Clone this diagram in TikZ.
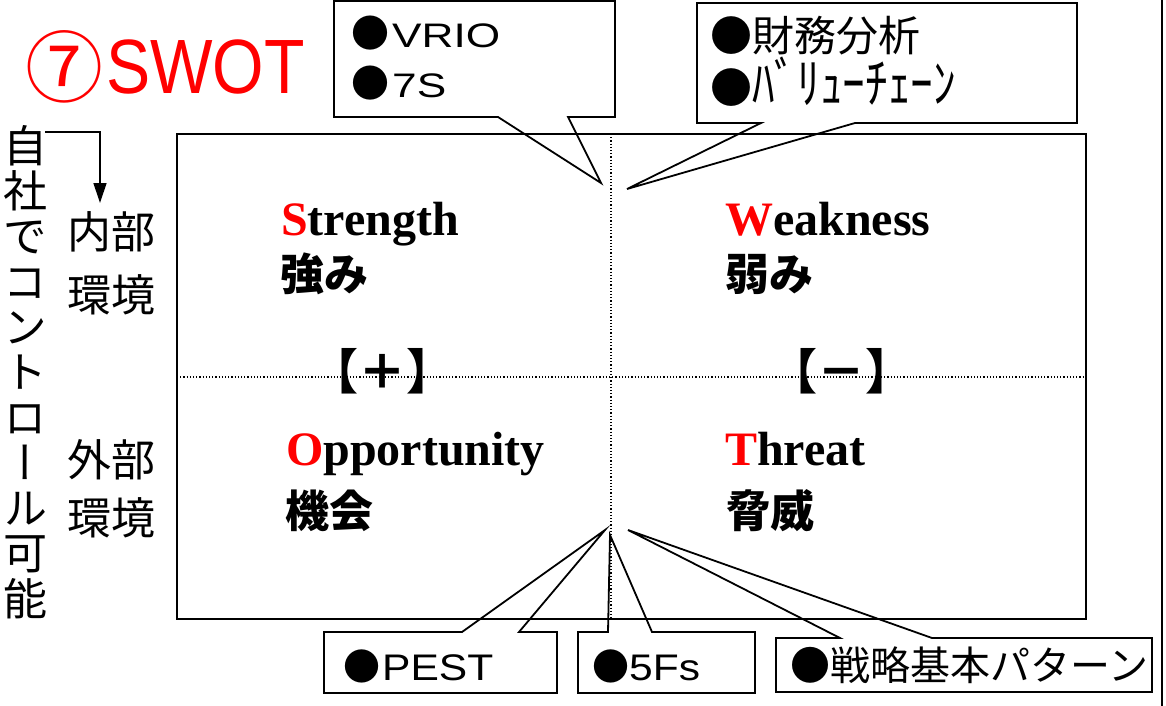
\documentclass[tikz,border=0pt]{standalone}
\usepackage{fontspec}
\usepackage{graphicx}
\usetikzlibrary{arrows.meta}
\newfontfamily\jp{Noto Sans CJK JP}
\newfontfamily\jpv[RawFeature=+vert]{Noto Sans CJK JP}
\newfontfamily\gl[FakeStretch=1.15]{Liberation Sans}
\newfontfamily\glw[FakeStretch=1.3]{Liberation Sans}
\newfontfamily\ser{Liberation Serif}
\newfontfamily\ttl{Liberation Sans}
\definecolor{swotred}{RGB}{255,0,0}
\begin{document}
\begin{tikzpicture}[x=1pt,y=-1pt,
  frame/.style={draw, line width=2pt},
  callout/.style={draw, line width=1.8pt, line join=miter},
  gridline/.style={dotted, line width=1.2pt},
  en/.style={font=\ser\bfseries\fontsize{48}{48}\selectfont, anchor=base west, inner sep=0pt},
  ja/.style={font=\jp\bfseries\fontsize{44}{44}\selectfont, anchor=base west, inner sep=0pt},
  side/.style={font=\jp\fontsize{44}{44}\selectfont, anchor=center, inner sep=0pt},
  pm/.style={font=\jp\bfseries\fontsize{48}{48}\selectfont, anchor=center, inner sep=0pt},
  item/.style={anchor=base west, inner sep=0pt}
]
\useasboundingbox (0,0) rectangle (1166,706);
\fill[white] (0,0) rectangle (1166,706);

% page edge line on the right
\draw[line width=1.5pt] (1162,0) -- (1162,706);

% title
\node[inner sep=0pt, text=swotred, font=\jp\fontsize{78}{78}\selectfont] (circ) at (64,67) {⑦};
\node[anchor=base west, inner sep=0pt, text=swotred, font=\ttl\fontsize{77}{77}\selectfont] (title) at (106,94) {\scalebox{0.86}[1]{SWOT}};

% main frame
\draw[frame] (177,134) rectangle (1086,619);
\draw[gridline] (611,134) -- (611,619);
\draw[gridline] (177,377) -- (1086,377);

% quadrant texts
\node[en] (str) at (281,235) {\textcolor{swotred}{S}trength};
\node[ja] (strj) at (280,290) {強み};
\node[en] (wea) at (725,235) {\textcolor{swotred}{W}eakness};
\node[ja] (weaj) at (725,290) {弱み};
\node[en] (opp) at (286,465) {\textcolor{swotred}{O}pportunity};
\node[ja] (oppj) at (285,527) {機会};
\node[en] (thr) at (725,465) {\textcolor{swotred}{T}hreat};
\node[ja] (thrj) at (726,527) {脅威};
\node[pm] (plus) at (382,371) {【＋】};
\node[pm] (minus) at (841,371) {【－】};

% left side labels
\node[font=\jpv\fontsize{44}{45.3}\selectfont, align=center, anchor=north, inner sep=0pt] (ctrl) at (26,125)
  {自\\社\\で\\コ\\ン\\ト\\ロ\\ー\\ル\\可\\能};
\node[side] (in1) at (111,232) {内部};
\node[side] (in2) at (111,295) {環境};
\node[side] (ex1) at (111,460) {外部};
\node[side] (ex2) at (111,518) {環境};
\coordinate (ar0) at (45,132);
\coordinate (ar1) at (100,132);
\coordinate (ar2) at (100,203);
\draw[line width=1.3pt, -{Triangle[length=20pt,width=13pt]}] (ar0) -- (ar1) -- (ar2);

% callouts
\draw[callout] (334,1) -- (615,1) -- (615,117) -- (568,117) -- (601,183) -- (498,117) -- (334,117) -- cycle;
\node[item, font=\glw\fontsize{34}{34}\selectfont] (vrio) at (351,48) {{\jp\fontsize{38}{38}\selectfont ●}\hspace{3pt}VRIO};
\node[item, font=\glw\fontsize{34}{34}\selectfont] (s7) at (351,98) {{\jp\fontsize{38}{38}\selectfont ●}\hspace{3pt}7S};

\draw[callout] (697,3) -- (1077,3) -- (1077,123) -- (855,123) -- (627,189) -- (761,123) -- (697,123) -- cycle;
\node[item, font=\jp\fontsize{42}{42}\selectfont] (zaimu) at (710,52) {●財務分析};
\node[item, font=\jp\fontsize{42}{42}\selectfont] (value) at (710,104) {●\scalebox{1.08}[1.3]{ﾊﾞﾘｭｰﾁｪｰﾝ}};

\draw[callout] (324,632) -- (462,632) -- (605,530) -- (519,632) -- (557,632) -- (557,693) -- (324,693) -- cycle;
\node[item, font=\gl\fontsize{37}{37}\selectfont] (pest) at (343,680) {{\jp ●}\hspace{2pt}PEST};

\draw[callout] (578,632) -- (608,632) -- (610,535) -- (652,632) -- (755,632) -- (755,693) -- (578,693) -- cycle;
\node[item, font=\gl\fontsize{37}{37}\selectfont] (fivef) at (592,680) {{\jp ●}5Fs};

\draw[callout] (776,638) -- (840,638) -- (628,530) -- (932,638) -- (1152,638) -- (1152,692) -- (776,692) -- cycle;
\node[item, font=\jp\fontsize{40}{40}\selectfont] (strat) at (790,680) {●戦略基本パターン};
\end{tikzpicture}
\end{document}
